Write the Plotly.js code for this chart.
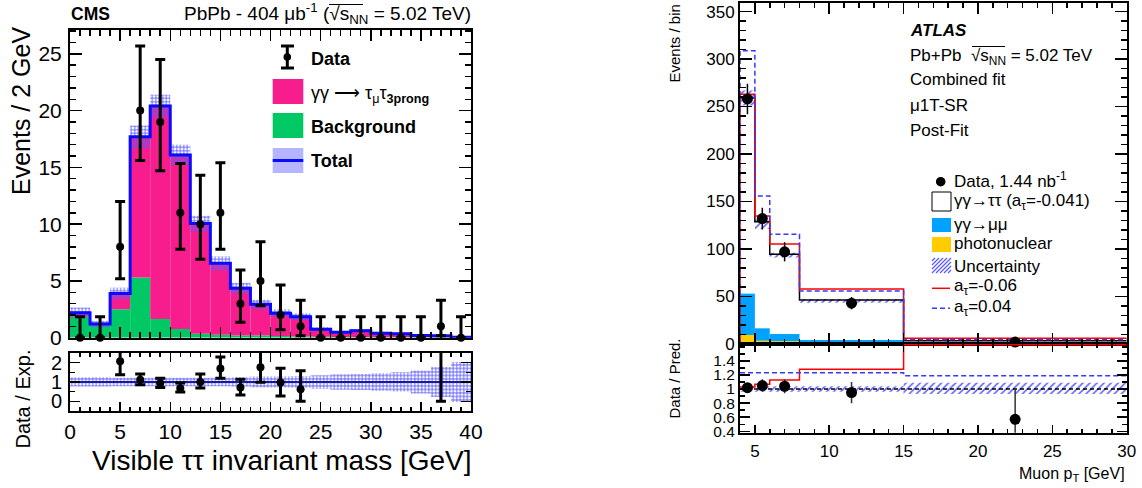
<!DOCTYPE html>
<html><head><meta charset="utf-8">
<script src="https://cdn.plot.ly/plotly-3.0.1.min.js"></script>
<style>html,body{margin:0;padding:0;background:#fff}#c{width:1142px;height:488px}</style>
</head><body><div id="c"></div><script>
// ---------------- CMS panel data ----------------
const cmsEdges = [0,2,4,6,8,10,12,14,16,18,20,22,24,26,28,30,32,34,36,38,40];
const cmsBackground = [1.85,1.05,2.5,5.3,1.65,0.77,0.35,0.25,0.2,0.2,0.15,0.1,0.08,0.06,0.05,0.05,0.04,0.03,0.03,0.02];
const cmsSignal = [0.35,0.15,1.4,12.4,18.75,15.33,9.7,6.3,4.15,2.74,2.0,1.75,0.66,0.41,0.57,0.35,0.31,0.17,0.15,0.03];
const cmsBandHalf = [0.45,0.3,0.5,1.0,1.0,0.9,0.7,0.6,0.5,0.4,0.35,0.3,0.2,0.15,0.15,0.12,0.1,0.08,0.08,0.05];
const cmsData = [0,0,8,20,19,11,10,11,3,5,2,1,0,0,0,0,0,0,1,0];
const cmsDataUp = [1.84,1.84,4.0,5.7,5.5,4.35,4.3,4.4,2.96,3.45,2.64,2.3,1.84,1.84,1.84,1.84,1.84,1.84,2.3,1.84];
const cmsDataDown = [0,0,2.8,4.4,4.3,3.2,3.1,3.2,1.65,2.18,1.3,0.83,0,0,0,0,0,0,0.83,0];
const cmsRatioX = [5,7,9,11,13,15,17,19,21,23,37];
const cmsRatio = [2.07,1.12,0.94,0.68,1.0,1.7,0.71,1.77,0.97,0.62,5.5];
const cmsRatioUp = [1.0,0.30,0.26,0.27,0.42,0.6,0.43,1.0,0.74,0.96,3.0];
const cmsRatioDown = [0.69,0.26,0.22,0.2,0.31,0.51,0.38,0.79,0.7,0.62,5.5];
const cmsRatioBandHalf = [0.24,0.24,0.22,0.22,0.22,0.22,0.22,0.22,0.24,0.28,0.28,0.3,0.35,0.4,0.42,0.45,0.5,0.6,0.78,1.04];
const cmsXTicks = [0,5,10,15,20,25,30,35,40];

// ---------------- ATLAS panel data ----------------
const atlasEdges = [4,5,6,8,15,30];
const atlasPhotonuclear = [9.5,3.5,3.0,1.8,0.5];
const atlasMuMu = [43.5,13.0,7.5,2.5,0.5];
const atlasTauTau = [206,112.3,84,42,2.5];
const atlasUncLo = [251,121,91,43.5,3.0];
const atlasUncHi = [267,131,96,47,4.0];
const atlasAm006 = [263,134.8,105.3,57.9,6.0];
const atlasAp004 = [308.6,155.9,115.5,55.8,4.5];
const atlasDataX = [4.5,5.5,7,11.5,22.5];
const atlasData = [258,132,97,43,2];
const atlasDataErr = [16,11.5,10,6.5,1.4];
const atlasRatio = [1.02,1.05,1.04,0.95,0.57];
const atlasRatioErr = [0.06,0.09,0.1,0.15,0.43];
const atlasRatioAm006 = [1.03,1.07,1.13,1.28,1.63];
const atlasRatioAp004 = [1.23,1.23,1.23,1.23,1.19];
const atlasRatioUncLo = [0.96,0.96,0.96,0.96,0.93];
const atlasRatioUncHi = [1.04,1.04,1.04,1.04,1.09];
const atlasRatioTicks = [0.4,0.6,0.8,1,1.2,1.4];
const atlasRatioTickText = ['0.4','0.6','0.8','1','1.2','1.4'];

// ---------------- helpers ----------------
const W = 1142, H = 488;
const fx = p => p / W, fy = p => 1 - p / H;
const centers = e => e.slice(0,-1).map((v,i)=>(v+e[i+1])/2);
const widths = e => e.slice(0,-1).map((v,i)=>e[i+1]-v);
const stepY = v => v.concat([v[v.length-1]]);
const FONT = 'Liberation Sans, Arial, Helvetica, sans-serif';

const cmsC = centers(cmsEdges), cmsW = widths(cmsEdges);
const cmsTotal = cmsSignal.map((s,i)=>s+cmsBackground[i]);
const atC = centers(atlasEdges), atW = widths(atlasEdges);
const atBkg = atlasPhotonuclear.map((p,i)=>p+atlasMuMu[i]);
const atTotal = atBkg.map((b,i)=>b+atlasTauTau[i]);

const PINK = '#f71d8c', GREEN = '#00c864', CBLUE = '#0a0aff', HATCH = '#5a5aff';
const ABLUE = '#00a2ff', YEL = '#ffcc00', RED = '#ff0000', DBLUE = '#3838ff';

const traces = [
  // CMS main
  {type:'bar', x:cmsC, y:cmsBackground, width:cmsW, xaxis:'x', yaxis:'y', marker:{color:GREEN, line:{width:0}}},
  {type:'bar', x:cmsC, y:cmsSignal, base:cmsBackground, width:cmsW, xaxis:'x', yaxis:'y', marker:{color:PINK, line:{width:0}}},
  {type:'bar', x:cmsC, y:cmsBandHalf.map(h=>2*h), base:cmsTotal.map((t,i)=>t-cmsBandHalf[i]), width:cmsW, xaxis:'x', yaxis:'y',
   marker:{color:HATCH, line:{width:0}, pattern:{shape:'+', size:3.5, solidity:0.45}}},
  {type:'scatter', mode:'lines', x:cmsEdges, y:stepY(cmsTotal), line:{shape:'hv', color:CBLUE, width:3}, xaxis:'x', yaxis:'y'},
  {type:'scatter', mode:'markers', x:cmsC, y:cmsData, xaxis:'x', yaxis:'y', cliponaxis:false,
   marker:{color:'black', size:8},
   error_y:{type:'data', symmetric:false, array:cmsDataUp, arrayminus:cmsDataDown, color:'black', thickness:3, width:5}},
  // CMS ratio
  {type:'bar', x:cmsC, y:cmsRatioBandHalf.map(h=>2*h), base:cmsRatioBandHalf.map(h=>1-h), width:cmsW, xaxis:'x2', yaxis:'y2',
   marker:{color:HATCH, line:{width:0}, pattern:{shape:'+', size:3.5, solidity:0.45}}},
  {type:'scatter', mode:'lines', x:[cmsEdges[0], cmsEdges[cmsEdges.length-1]], y:[1,1], line:{color:'#1a1a9a', width:2}, xaxis:'x2', yaxis:'y2'},
  {type:'scatter', mode:'markers', x:cmsRatioX, y:cmsRatio, xaxis:'x2', yaxis:'y2',
   marker:{color:'black', size:8},
   error_y:{type:'data', symmetric:false, array:cmsRatioUp, arrayminus:cmsRatioDown, color:'black', thickness:3, width:5}},
  // ATLAS main
  {type:'bar', x:atC, y:atlasPhotonuclear, width:atW, xaxis:'x3', yaxis:'y3', marker:{color:YEL, line:{width:0}}},
  {type:'bar', x:atC, y:atlasMuMu, base:atlasPhotonuclear, width:atW, xaxis:'x3', yaxis:'y3', marker:{color:ABLUE, line:{width:0}}},
  {type:'bar', x:atC, y:atlasUncHi.map((h,i)=>h-atlasUncLo[i]), base:atlasUncLo, width:atW, xaxis:'x3', yaxis:'y3',
   marker:{color:HATCH, line:{width:0}, pattern:{shape:'/', size:5, solidity:0.3}}},
  {type:'scatter', mode:'lines', x:atlasEdges, y:stepY(atTotal), line:{shape:'hv', color:'black', width:1.5}, xaxis:'x3', yaxis:'y3'},
  {type:'scatter', mode:'lines', x:[atlasEdges[0]].concat(atlasEdges), y:[0].concat(stepY(atlasAm006)), line:{shape:'hv', color:RED, width:1.5}, xaxis:'x3', yaxis:'y3'},
  {type:'scatter', mode:'lines', x:[atlasEdges[0]].concat(atlasEdges), y:[0].concat(stepY(atlasAp004)), line:{shape:'hv', color:DBLUE, width:1.5, dash:'5px,3px'}, xaxis:'x3', yaxis:'y3'},
  {type:'scatter', mode:'markers', x:atlasDataX, y:atlasData, xaxis:'x3', yaxis:'y3', cliponaxis:false,
   marker:{color:'black', size:11},
   error_y:{type:'data', array:atlasDataErr, color:'black', thickness:1.5, width:0}},
  // ATLAS ratio
  {type:'bar', x:atC, y:atlasRatioUncHi.map((h,i)=>h-atlasRatioUncLo[i]), base:atlasRatioUncLo, width:atW, xaxis:'x4', yaxis:'y4',
   marker:{color:HATCH, line:{width:0}, pattern:{shape:'/', size:5, solidity:0.3}}},
  {type:'scatter', mode:'lines', x:[atlasEdges[0], atlasEdges[atlasEdges.length-1]], y:[1,1], line:{color:'black', width:1.5, dash:'4px,3px'}, xaxis:'x4', yaxis:'y4'},
  {type:'scatter', mode:'lines', x:atlasEdges, y:stepY(atlasRatioAm006), line:{shape:'hv', color:RED, width:1.5}, xaxis:'x4', yaxis:'y4'},
  {type:'scatter', mode:'lines', x:atlasEdges, y:stepY(atlasRatioAp004), line:{shape:'hv', color:DBLUE, width:1.5, dash:'5px,3px'}, xaxis:'x4', yaxis:'y4'},
  {type:'scatter', mode:'markers', x:atlasDataX, y:atlasRatio, xaxis:'x4', yaxis:'y4',
   marker:{color:'black', size:11},
   error_y:{type:'data', array:atlasRatioErr, color:'#333', thickness:1.5, width:0}}
].map(t=>Object.assign({showlegend:false, hoverinfo:'skip'}, t));

function ax(o){
  return Object.assign({showline:true, linecolor:'black', linewidth:2, mirror:'ticks', ticks:'inside',
    tickcolor:'black', tickwidth:1.5, showgrid:false, zeroline:false, fixedrange:true,
    tickfont:{family:FONT, size:21, color:'black'}}, o);
}
const cmsX = [fx(70), fx(471)];
const atX = [fx(740), fx(1126.7)];

const layout = {
  width:W, height:H, margin:{l:0,r:0,t:0,b:0}, paper_bgcolor:'white', plot_bgcolor:'white',
  barmode:'overlay', hovermode:false,
  xaxis: ax({domain:cmsX, anchor:'y', range:[0,40], tickvals:cmsXTicks, ticklen:11, showticklabels:false,
    minor:{ticks:'inside', dtick:1, ticklen:6, tickcolor:'black', tickwidth:1.5}}),
  yaxis: ax({domain:[fy(337.7), fy(30)], anchor:'x', range:[0,27.1], dtick:5, ticklen:12, ticklabelstandoff:2,
    minor:{ticks:'inside', dtick:1, ticklen:6, tickcolor:'black', tickwidth:1.5}}),
  xaxis2: ax({domain:cmsX, anchor:'y2', range:[0,40], tickvals:cmsXTicks, ticklen:9, ticklabelstandoff:1,
    minor:{ticks:'inside', dtick:1, ticklen:4, tickcolor:'black', tickwidth:1.5}}),
  yaxis2: ax({domain:[fy(410.7), fy(352.7)], anchor:'x2', range:[-0.49,2.52], tickvals:[0,1,2], ticklen:10, ticklabelstandoff:2,
    tickfont:{family:FONT, size:20, color:'black'},
    minor:{ticks:'inside', dtick:0.5, ticklen:5, tickcolor:'black', tickwidth:1.5}}),
  xaxis3: ax({domain:atX, anchor:'y3', range:[4,30], tick0:0, dtick:5, ticklen:11, showticklabels:false,
    minor:{ticks:'inside', dtick:1, ticklen:5, tickcolor:'black', tickwidth:1.5}}),
  yaxis3: ax({domain:[fy(344), fy(3)], anchor:'x3', range:[0,359], dtick:50, ticklen:12, ticklabelstandoff:0,
    tickfont:{family:FONT, size:17, color:'black'},
    minor:{ticks:'inside', dtick:10, ticklen:6, tickcolor:'black', tickwidth:1.5}}),
  xaxis4: ax({domain:atX, anchor:'y4', range:[4,30], tick0:0, dtick:5, ticklen:8, ticklabelstandoff:2,
    tickfont:{family:FONT, size:17, color:'black'},
    minor:{ticks:'inside', dtick:1, ticklen:4, tickcolor:'black', tickwidth:1.5}}),
  yaxis4: ax({domain:[fy(432.7), fy(344)], anchor:'x4', range:[0.38,1.64], tickvals:atlasRatioTicks, ticktext:atlasRatioTickText,
    ticklen:10, ticklabelstandoff:0, tickfont:{family:FONT, size:15.5, color:'black'},
    minor:{ticks:'inside', dtick:0.1, ticklen:5, tickcolor:'black', tickwidth:1.5}}),
  annotations:[], shapes:[]
};

function txt(text, x, y, size, o){
  layout.annotations.push(Object.assign({text, x:fx(x), y:fy(y), xref:'paper', yref:'paper', showarrow:false,
    xanchor:'left', yanchor:'middle', font:{family:FONT, size, color:'black'}}, o||{}));
}
function rect(x0,y0,x1,y1,fill,line){
  layout.shapes.push({type:'rect', xref:'paper', yref:'paper', x0:fx(x0), x1:fx(x1), y0:fy(y0), y1:fy(y1),
    fillcolor:fill, line:line||{width:0}});
}
function seg(x0,y0,x1,y1,color,width,dash){
  layout.shapes.push({type:'line', xref:'paper', yref:'paper', x0:fx(x0), x1:fx(x1), y0:fy(y0), y1:fy(y1),
    line:{color, width, dash:dash||'solid'}});
}
function dot(cx,cy,r){
  layout.shapes.push({type:'circle', xref:'paper', yref:'paper', x0:fx(cx-r), x1:fx(cx+r), y0:fy(cy+r), y1:fy(cy-r),
    fillcolor:'black', line:{width:0}});
}

// CMS header
txt('<b>CMS</b>', 69, 14, 17.5);
txt('PbPb - 404 μb<sup>-1</sup> (√s<sub>NN</sub> = 5.02 TeV)', 473, 14, 19, {xanchor:'right'});
seg(329, 4.5, 363, 4.5, 'black', 1);
// CMS axis titles
txt('Visible ττ invariant mass [GeV]', 474, 460, 28, {xanchor:'right'});
txt('Events / 2 GeV', 21, 25, 25, {textangle:-90, xanchor:'center', yanchor:'top'});
txt('Data / Exp.', 22, 348, 20, {textangle:-90, xanchor:'center', yanchor:'top'});
// CMS legend
seg(287.3, 46, 287.3, 68, 'black', 3);
seg(281, 46, 294, 46, 'black', 3);
seg(281, 68, 294, 68, 'black', 3);
dot(287.3, 57, 3.8);
txt('<b>Data</b>', 309, 59, 18);
rect(272.7, 79, 303.3, 104, PINK);
txt('γγ ⟶ τ<sub>μ</sub>τ<sub><b>3prong</b></sub>', 309, 94, 18);
rect(272.7, 113, 303.3, 138, GREEN);
txt('<b>Background</b>', 309, 127, 18);
rect(272.7, 148, 303.3, 173, 'rgba(90,90,255,0.45)');
seg(272.7, 160.5, 303.3, 160.5, CBLUE, 3);
txt('<b>Total</b>', 309, 161, 18);

// ATLAS texts
txt('<b><i>ATLAS</i></b>', 908, 31, 17);
txt('Pb+Pb  √s<sub>NN</sub> = 5.02 TeV', 908, 57, 17);
seg(972, 46.5, 1005, 46.5, 'black', 1);
txt('Combined fit', 908, 80, 17);
txt('μ1T-SR', 908, 105, 17);
txt('Post-Fit', 908, 130, 17);
// ATLAS legend
dot(940.7, 181.7, 4.8);
txt('Data, 1.44 nb<sup>-1</sup>', 952, 180, 17);
rect(932, 192, 951, 211, 'white', {color:'black', width:1});
txt('γγ→ττ (a<sub>τ</sub>=-0.041)', 952, 202, 17);
rect(932, 218, 951, 232, ABLUE);
txt('γγ→μμ', 952, 224, 17);
rect(932, 237, 951, 252, YEL);
txt('photonuclear', 952, 243, 17);
for (let k = -12; k < 20; k += 4) {
  let xa = 932 + k, ya = 273, xb = 932 + k + 15, yb = 258;
  if (xa < 932) { ya -= (932 - xa); xa = 932; }
  if (xb > 951) { yb += (xb - 951); xb = 951; }
  if (xb > xa) seg(xa, ya, xb, yb, HATCH, 1.2);
}
txt('Uncertainty', 952, 266, 17);
seg(932, 288.3, 950, 288.3, RED, 1.5);
txt('a<sub>τ</sub>=-0.06', 952, 287, 17);
seg(932, 308.3, 950, 308.3, DBLUE, 1.5, '5px,3px');
txt('a<sub>τ</sub>=0.04', 952, 308, 17);
// ATLAS axis titles
txt('Events / bin', 673.5, 3, 15, {textangle:-90, xanchor:'center', yanchor:'top'});
txt('Data / Pred.', 673.5, 337, 15, {textangle:-90, xanchor:'center', yanchor:'top'});
txt('Muon p<sub>T</sub> [GeV]', 1127, 474, 16, {xanchor:'right'});

Plotly.newPlot('c', traces, layout, {staticPlot:true, displayModeBar:false});
</script></body></html>
